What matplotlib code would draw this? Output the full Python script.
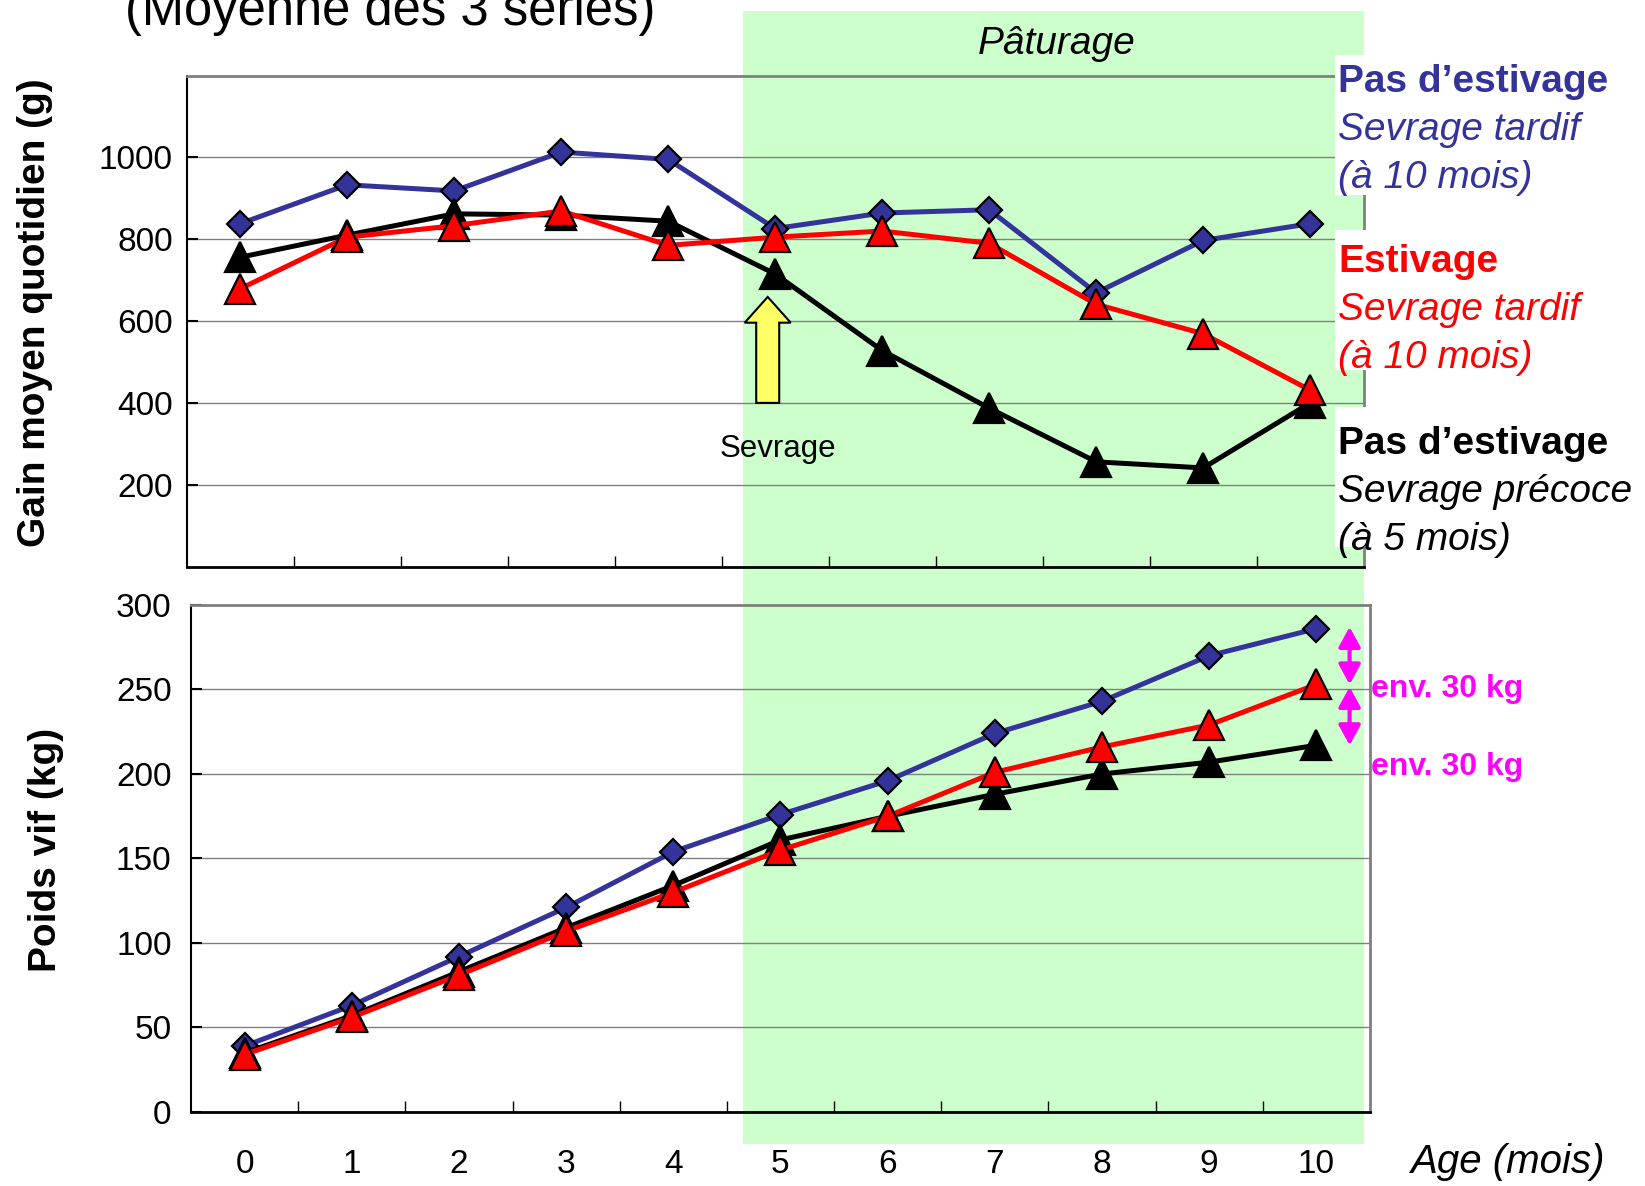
import numpy as np
import matplotlib
matplotlib.use('Agg')
from matplotlib import pyplot as plt
from matplotlib.patches import Rectangle, FancyArrow
import matplotlib.transforms as mtransforms

plt.rcParams['font.family'] = ['Liberation Sans', 'DejaVu Sans']

# Age (mois)
mois = list(range(11))
mois_labels = [str(m) for m in mois]

# Gain moyen quotidien (g)
gmq_pas_estiv_tardif = [838, 933, 918, 1013, 995, 826, 864, 872, 669, 797, 838]
gmq_estiv_tardif = [679, 805, 833, 869, 785, 805, 820, 790, 641, 569, 431]
gmq_pas_estiv_precoce = [756, 810, 862, 859, 844, 715, 528, 387, 256, 241, 400]

# Poids vif (kg)
pv_pas_estiv_tardif = [39, 63, 92, 121, 154, 176, 196, 224, 243, 270, 286]
pv_estiv_tardif = [34, 56, 81, 107, 130, 155, 175, 201, 216, 229, 253]
pv_pas_estiv_precoce = [35, 57, 83, 109, 134, 161, 175, 188, 200, 207, 217]

debut_paturage = 4.7
age_sevrage = 4.93

bleu = '#333399'
rouge = '#FF0000'
noir = '#000000'
magenta = '#FF00FF'
gris = '#808080'

fig = plt.figure(figsize=(16.45, 11.86), dpi=100)
ax1 = fig.add_axes([0.1135, 0.5223, 0.7155, 0.414])
ax2 = fig.add_axes([0.1161, 0.0624, 0.7167, 0.4275])


def tracer(ax, valeurs, couleur, marker, ms):
    ax.plot(mois, valeurs, color=couleur, lw=3.6, marker=marker, ms=ms,
            mfc=couleur, mec='black', mew=1.6, zorder=3, clip_on=False)


def habiller(ax, ymax, yticks, pad_y):
    ax.set_facecolor('none')
    ax.set_xlim(-0.5, 10.5)
    ax.set_ylim(0, ymax)
    ax.set_xticks(np.arange(0.5, 10, 1))
    ax.set_xticklabels([])
    ax.set_xticks(mois, minor=True)
    ax.tick_params(axis='x', which='major', direction='in', length=8, width=1)
    ax.tick_params(axis='x', which='minor', length=0)
    ax.set_yticks(yticks)
    ax.set_yticklabels([str(v) for v in yticks])
    ax.tick_params(axis='y', direction='in', length=8, width=1.5,
                   labelsize=24, pad=pad_y)
    ax.yaxis.grid(True, color=gris, lw=1)
    ax.set_axisbelow(True)
    ax.spines['left'].set_color('black')
    ax.spines['left'].set_linewidth(1.5)
    ax.spines['bottom'].set_color('black')
    ax.spines['bottom'].set_linewidth(2)
    for s in ('top', 'right'):
        ax.spines[s].set_color(gris)
        ax.spines[s].set_linewidth(2)


# Graphique du haut : GMQ
tracer(ax1, gmq_pas_estiv_tardif, bleu, 'D', 13)
tracer(ax1, gmq_pas_estiv_precoce, noir, '^', 21)
tracer(ax1, gmq_estiv_tardif, rouge, '^', 21)
habiller(ax1, 1200, [200, 400, 600, 800, 1000], 10)
ax1.set_ylabel('Gain moyen quotidien (g)', fontsize=28, fontweight='bold')
ax1.yaxis.set_label_coords(-0.114, 0.518)

ax1.add_patch(FancyArrow(age_sevrage, 400, 0, 259, width=0.215, head_width=0.43,
                         head_length=63, length_includes_head=True,
                         facecolor='#FFFF66', edgecolor='black', lw=1.5, zorder=4))
ax1.text(5.03, 287, 'Sevrage', fontsize=22.5, ha='center', va='center')
ax1.text(7.63, 1277, 'Pâturage', fontsize=28, style='italic',
         ha='center', va='center', clip_on=False)

# Graphique du bas : poids vif
tracer(ax2, pv_pas_estiv_tardif, bleu, 'D', 13)
tracer(ax2, pv_pas_estiv_precoce, noir, '^', 21)
tracer(ax2, pv_estiv_tardif, rouge, '^', 21)
habiller(ax2, 300, [0, 50, 100, 150, 200, 250, 300], 14)
ax2.set_xticklabels(mois_labels, minor=True)
ax2.tick_params(axis='x', which='minor', labelsize=24, pad=27)
ax2.set_ylabel('Poids vif (kg)', fontsize=28, fontweight='bold')
ax2.yaxis.set_label_coords(-0.108, 0.517)
ax2.text(1.035, -0.099, 'Age (mois)', transform=ax2.transAxes, fontsize=29,
         style='italic', ha='left', va='center')

for y0, y1 in [(287, 253), (251.5, 217)]:
    ax2.annotate('', xy=(10.31, y0), xytext=(10.31, y1),
                 arrowprops=dict(arrowstyle='<|-|>,head_length=0.4,head_width=0.22',
                                 color=magenta, lw=3,
                                 mutation_scale=30, shrinkA=0, shrinkB=0),
                 annotation_clip=False)
for y in (250, 204):
    ax2.text(10.51, y, 'env. 30 kg', fontsize=23, fontweight='bold',
             color=magenta, ha='left', va='center', clip_on=False)

# Zone de pâturage
trans = mtransforms.blended_transform_factory(ax1.transData, fig.transFigure)
fig.add_artist(Rectangle((debut_paturage, 0.0358), 10.5 - debut_paturage, 0.9553,
                         transform=trans, facecolor='#CCFFCC', edgecolor='none',
                         zorder=-1))

# Légende
blocs = [
    (0.8356, [("Pas d’estivage", 'bold', 'normal'),
              ("Sevrage tardif", 'normal', 'italic'),
              ("(à 10 mois)", 'normal', 'italic')], bleu, 82),
    (0.688, [("Estivage", 'bold', 'normal'),
             ("Sevrage tardif", 'normal', 'italic'),
             ("(à 10 mois)", 'normal', 'italic')], rouge, 262),
    (0.5388, [("Pas d’estivage", 'bold', 'normal'),
              ("Sevrage précoce", 'normal', 'italic'),
              ("(à 5 mois)", 'normal', 'italic')], noir, 444),
]
for y0, lignes, couleur, ytop in blocs:
    fig.add_artist(Rectangle((0.8116, y0), 0.19, 0.118, transform=fig.transFigure,
                             facecolor='white', edgecolor='none', zorder=2))
    for i, (txt, poids, style) in enumerate(lignes):
        fig.text(0.8134, 1 - (ytop + 48 * i) / 1186, txt, fontsize=28,
                 fontweight=poids, style=style, color=couleur,
                 ha='left', va='center', zorder=3)

fig.text(0.237, 0.979, '(Moyenne des 3 séries)', fontsize=36.5,
         ha='center', va='baseline')

fig.savefig('out.png', dpi=100)
